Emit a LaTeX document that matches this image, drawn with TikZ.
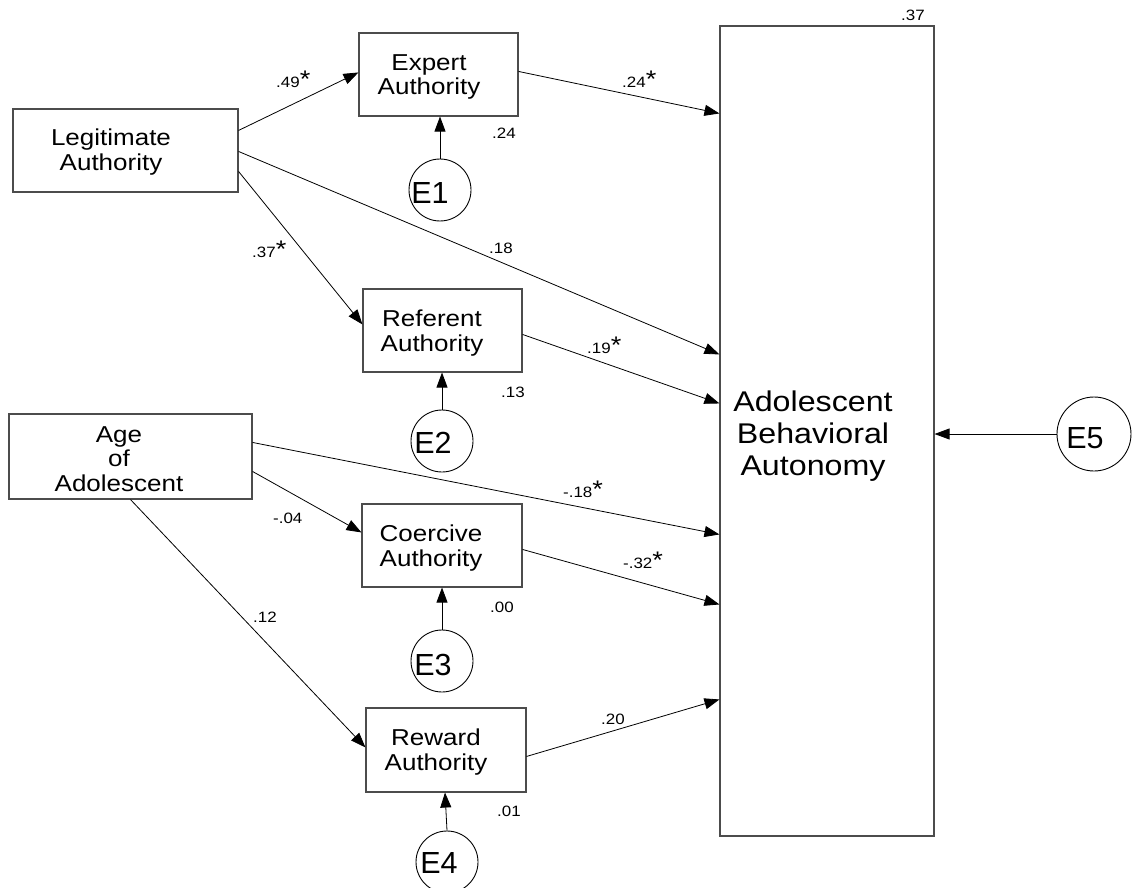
\documentclass[tikz,border=0pt]{standalone}
\usepackage{fontspec}
\setmainfont{Liberation Sans}
\newfontfamily\wide{Liberation Sans}[FakeStretch=1.13]
\usetikzlibrary{arrows.meta}
\newcommand{\sigstar}{{\fontsize{24}{24}\selectfont *}}
\begin{document}
\begin{tikzpicture}[x=1pt,y=-1pt,
  box/.style={draw=black!70, line width=1.1pt, inner sep=0pt},
  err/.style={draw=black, circle, line width=0.9pt, minimum size=62pt, inner sep=0pt},
  txt/.style={align=center, font=\wide\fontsize{23}{24.5}\selectfont, inner sep=0pt},
  etxt/.style={anchor=base, font=\fontsize{30.5}{30}\selectfont, inner sep=0pt},
  lab/.style={anchor=base west, font=\wide\fontsize{15}{15}\selectfont, inner sep=0pt},
  conn/.style={-{Triangle[length=15pt,width=11pt]}, line width=0.8pt, draw=black}
]
\useasboundingbox (0,0) rectangle (1136,888);

% boxes
\node[box, minimum width=225pt, minimum height=83pt] (leg) at (125.5,150.5) {};
\node[box, minimum width=159pt, minimum height=83pt] (exp) at (438.5,74.5) {};
\node[box, minimum width=159pt, minimum height=83pt] (ref) at (442.5,330.5) {};
\node[box, minimum width=243pt, minimum height=85pt] (age) at (130.5,456.5) {};
\node[box, minimum width=160pt, minimum height=83pt] (coe) at (442,545.5) {};
\node[box, minimum width=160pt, minimum height=84pt] (rew) at (446,750) {};
\node[box, minimum width=214pt, minimum height=810pt] (big) at (827,431) {};

% box texts
\node[txt] (legT) at (111,152) {Legitimate\\Authority};
\node[txt] (expT) at (429,77) {Expert\\Authority};
\node[txt] (refT) at (432,333) {Referent\\Authority};
\node[txt] (ageT) at (119,459) {Age\\of\\Adolescent};
\node[txt] (coeT) at (431,548) {Coercive\\Authority};
\node[txt] (rewT) at (436,752) {Reward\\Authority};
\node[align=center, font=\wide\fontsize{28.5}{32}\selectfont, inner sep=0pt] (bigT) at (813,436) {Adolescent\\Behavioral\\Autonomy};

% error circles
\node[err] (e1) at (440,190) {};
\node[err] (e2) at (442,441) {};
\node[err] (e3) at (442,661) {};
\node[err] (e4) at (447,862) {};
\node[err, minimum size=74pt] (e5) at (1094,434) {};
\node[etxt] (e1T) at (430,204) {E1};
\node[etxt] (e2T) at (433,453) {E2};
\node[etxt] (e3T) at (433,675) {E3};
\node[etxt] (e4T) at (439,873) {E4};
\node[etxt] (e5T) at (1085,448) {E5};

% paths
\draw[conn] ([yshift=-22pt]leg.north east) -- ([yshift=-40pt]exp.north west);
\draw[conn] ([yshift=-43pt]leg.north east) -- ([yshift=-329pt]big.north west);
\draw[conn] ([yshift=-63pt]leg.north east) -- ([yshift=-36pt]ref.north west);
\draw[conn] ([yshift=-39pt]exp.north east) -- ([yshift=-88pt]big.north west);
\draw[conn] ([yshift=-46pt]ref.north east) -- ([yshift=-378pt]big.north west);
\draw[conn] ([yshift=-29pt]age.north east) -- ([yshift=-509pt]big.north west);
\draw[conn] ([yshift=-58pt]age.north east) -- ([yshift=-29pt]coe.north west);
\draw[conn] (age.south) -- ([yshift=-40pt]rew.north west);
\draw[conn] ([yshift=-46pt]coe.north east) -- ([yshift=-579pt]big.north west);
\draw[conn] ([yshift=-49pt]rew.north east) -- ([yshift=-674pt]big.north west);

\draw[conn] (e1.north) -- (e1.north |- exp.south);
\draw[conn] (e2.north) -- (e2.north |- ref.south);
\draw[conn] (e3.north) -- (e3.north |- coe.south);
\draw[conn] (e4.north) -- ([xshift=-2pt]e4.north |- rew.south);
\draw[conn] (e5.west) -- (e5.west -| big.east);

% labels
\node[lab] (l1) at (276,88) {.49\sigstar};
\node[lab] (l2) at (252,257) {.37\sigstar};
\node[lab] (l3) at (489,253) {.18};
\node[lab] (l4) at (492,139) {.24};
\node[lab] (l5) at (622,88) {.24\sigstar};
\node[lab] (l6) at (901,21) {.37};
\node[lab] (l7) at (587,353) {.19\sigstar};
\node[lab] (l8) at (501,397) {.13};
\node[lab] (l9) at (563,497) {-.18\sigstar};
\node[lab] (l10) at (623,568) {-.32\sigstar};
\node[lab] (l11) at (490,612) {.00};
\node[lab] (l12) at (273,523) {-.04};
\node[lab] (l13) at (253,622) {.12};
\node[lab] (l14) at (601,724) {.20};
\node[lab] (l15) at (497,816) {.01};
\end{tikzpicture}
\end{document}
